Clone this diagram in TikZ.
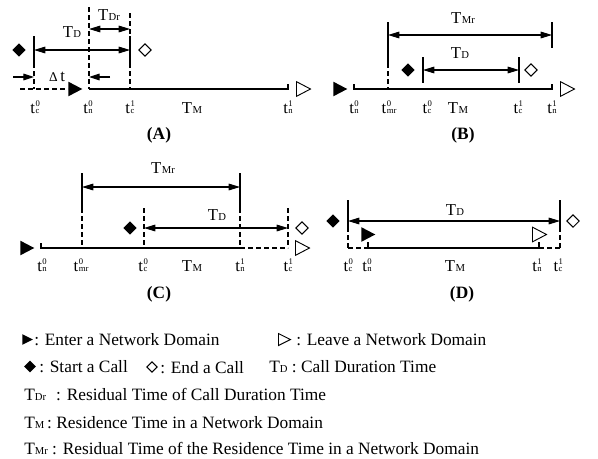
\documentclass[tikz,border=0pt]{standalone}
\usepackage{fontspec}
\setmainfont{Liberation Serif}
\usetikzlibrary{arrows.meta,shapes.geometric}

% T with a small letter index on the baseline (T_D, T_M, ...)
\newcommand\Tsub[1]{T\kern0.3pt{\fontsize{8}{8}\selectfont #1}}
% time instant t with stacked upper and lower index
\newcommand\tlab[2]{t\kern0.4pt\rlap{\raisebox{4.8pt}{\fontsize{6.5}{7}\selectfont #1}}{\fontsize{6.5}{7}\selectfont #2}}

\begin{document}
\begin{tikzpicture}[x=0.75pt,y=-0.75pt,
  lbl/.style={inner sep=0pt, anchor=base, font=\fontsize{12.5}{12.5}\selectfont},
  panelcap/.style={inner sep=0pt, font=\fontsize{13}{13}\selectfont\bfseries},
  legtext/.style={inner sep=0pt, anchor=base west, font=\fontsize{13}{13}\selectfont},
  rule/.style={line width=0.8pt},
  dsh/.style={line width=0.8pt, dash pattern=on 3.5pt off 2.5pt},
  span/.style={line width=0.8pt, {Triangle[length=8.5pt,width=5pt]}-{Triangle[length=8.5pt,width=5pt]}},
  half/.style={line width=0.8pt, -{Triangle[length=8pt,width=5pt]}},
  enter/.style={isosceles triangle, isosceles triangle stretches, shape border rotate=0,
    fill=black, inner sep=0pt, minimum width=11pt, minimum height=10.5pt, anchor=west},
  leave/.style={enter, fill=white, draw=black, line width=0.7pt},
  callon/.style={diamond, fill=black, inner sep=0pt, minimum width=10pt, minimum height=10pt},
  calloff/.style={diamond, draw=black, fill=white, line width=0.7pt, inner sep=0pt,
    minimum width=9.5pt, minimum height=9.5pt},
]
\useasboundingbox (0,0) rectangle (598,458);

% ---------------- (A) ----------------
\coordinate (a1t) at (34,36);  \coordinate (a1m) at (34,63);  \coordinate (a1b) at (34,89);
\coordinate (a2t) at (89,7);   \coordinate (a2b) at (89,89);
\coordinate (a3t) at (130,13); \coordinate (a3u) at (130,36); \coordinate (a3m) at (130,63); \coordinate (a3b) at (130,89);
\draw[rule] (a1t) -- (a1m); \draw[dsh] (a1m) -- (a1b);
\draw[dsh] (a2t) -- (a2b);
\draw[dsh] (a3t) -- (a3u); \draw[rule] (a3u) -- (a3m); \draw[dsh] (a3m) -- (a3b);
\coordinate (aDl) at (34,50);  \coordinate (aDr) at (130,50);
\draw[span] (aDl) -- (aDr);
\coordinate (aRl) at (89,29);  \coordinate (aRr) at (130,29);
\draw[span] (aRl) -- (aRr);
\node[lbl] (aTD) at (72,37) {\Tsub{D}};
\node[lbl] (aTDr) at (109,20) {\Tsub{Dr}};
\node[callon] (aOn) at (19,50) {};
\node[calloff] (aOff) at (145,50) {};
% delta t
\coordinate (aL0) at (13,77); \coordinate (aL1) at (34,77);
\coordinate (aR0) at (110,77); \coordinate (aR1) at (89,77);
\draw[half] (aL0) -- (aL1);
\draw[half] (aR0) -- (aR1);
\node[lbl] (aDt) at (57,81) {{\fontsize{10}{10}\selectfont Δ}\,t};
% time axis
\coordinate (aS) at (20,89);
\node[enter] (aIn) at (68,89) {};
\draw[dsh] (aS) -- (aIn.west);
\coordinate (aE) at (288,89); \coordinate (aEt) at (288,84);
\draw[rule] (a2b) -- (aE) -- (aEt);
\node[leave] (aOut) at (296,89) {};
\node[lbl] (atc0) at (35,113) {\tlab{0}{c}};
\node[lbl] (atn0) at (88,113) {\tlab{0}{n}};
\node[lbl] (atc1) at (130,113) {\tlab{1}{c}};
\node[lbl] (aTM) at (192,113) {\Tsub{M}};
\node[lbl] (atn1) at (288,113) {\tlab{1}{n}};
\node[panelcap] (capA) at (159,135) {(A)};

% ---------------- (B) ----------------
\node[enter] (bIn) at (333,89) {};
\coordinate (bS) at (354,89); \coordinate (bSt) at (354,84);
\coordinate (bE) at (552,89); \coordinate (bEt) at (552,84);
\draw[rule] (bSt) -- (bS) -- (bE) -- (bEt);
\node[leave] (bOut) at (560,89) {};
\coordinate (b1t) at (388,22); \coordinate (b1m) at (388,63); \coordinate (b1b) at (388,89);
\draw[rule] (b1t) -- (b1m); \draw[dsh] (b1m) -- (b1b);
\coordinate (b2t) at (552,22); \coordinate (b2b) at (552,48);
\draw[rule] (b2t) -- (b2b);
\coordinate (bMl) at (388,35); \coordinate (bMr) at (552,35);
\draw[span] (bMl) -- (bMr);
\node[lbl] (bTMr) at (463,23) {\Tsub{Mr}};
\coordinate (b3t) at (423,57); \coordinate (b3b) at (423,83);
\coordinate (b4t) at (519,57); \coordinate (b4b) at (519,83);
\draw[rule] (b3t) -- (b3b); \draw[rule] (b4t) -- (b4b);
\coordinate (bDl) at (423,70); \coordinate (bDr) at (519,70);
\draw[span] (bDl) -- (bDr);
\node[lbl] (bTD) at (460,58) {\Tsub{D}};
\node[callon] (bOn) at (408,70) {};
\node[calloff] (bOff) at (531,70) {};
\node[lbl] (btn0) at (354,113) {\tlab{0}{n}};
\node[lbl] (btmr0) at (389,113) {\tlab{0}{mr}};
\node[lbl] (btc0) at (427,113) {\tlab{0}{c}};
\node[lbl] (bTM) at (458,113) {\Tsub{M}};
\node[lbl] (btc1) at (518,113) {\tlab{1}{c}};
\node[lbl] (btn1) at (552,113) {\tlab{1}{n}};
\node[panelcap] (capB) at (463,135) {(B)};

% ---------------- (C) ----------------
\node[enter] (cIn) at (20,248) {};
\coordinate (cS) at (41,248); \coordinate (cSt) at (41,243);
\coordinate (cN) at (240,248); \coordinate (cE) at (288,248);
\draw[rule] (cSt) -- (cS) -- (cN);
\draw[dsh] (cN) -- (cE);
\node[leave] (cOut) at (295,248) {};
\coordinate (c1t) at (82,173); \coordinate (c1m) at (82,208); \coordinate (c1b) at (82,248);
\coordinate (c2t) at (240,173); \coordinate (c2m) at (240,208);
\draw[rule] (c1t) -- (c1m); \draw[dsh] (c1m) -- (c1b);
\draw[rule] (c2t) -- (c2m); \draw[dsh] (c2m) -- (cN);
\coordinate (cMl) at (82,187); \coordinate (cMr) at (240,187);
\draw[span] (cMl) -- (cMr);
\node[lbl] (cTMr) at (163,173) {\Tsub{Mr}};
\coordinate (c3t) at (144,208); \coordinate (c3b) at (144,248);
\coordinate (c4t) at (288,208);
\draw[dsh] (c3t) -- (c3b); \draw[dsh] (c4t) -- (cE);
\coordinate (cDl) at (144,228); \coordinate (cDr) at (288,228);
\draw[span] (cDl) -- (cDr);
\node[lbl] (cTD) at (217,220) {\Tsub{D}};
\node[callon] (cOn) at (130,228) {};
\node[calloff] (cOff) at (302,228) {};
\node[lbl] (ctn0) at (42,271) {\tlab{0}{n}};
\node[lbl] (ctmr0) at (81,271) {\tlab{0}{mr}};
\node[lbl] (ctc0) at (143,271) {\tlab{0}{c}};
\node[lbl] (cTM) at (192,271) {\Tsub{M}};
\node[lbl] (ctn1) at (240,271) {\tlab{1}{n}};
\node[lbl] (ctc1) at (288,271) {\tlab{1}{c}};
\node[panelcap] (capC) at (159,294) {(C)};

% ---------------- (D) ----------------
\coordinate (d1t) at (348,200); \coordinate (d1m) at (348,227); \coordinate (d1b) at (348,248);
\coordinate (d2t) at (560,200); \coordinate (d2m) at (560,227); \coordinate (d2b) at (560,248);
\draw[rule] (d1t) -- (d1m); \draw[dsh] (d1m) -- (d1b);
\draw[rule] (d2t) -- (d2m); \draw[dsh] (d2m) -- (d2b);
\coordinate (dDl) at (348,221); \coordinate (dDr) at (560,221);
\draw[span] (dDl) -- (dDr);
\node[lbl] (dTD) at (455,215) {\Tsub{D}};
\node[callon] (dOn) at (333,221) {};
\node[calloff] (dOff) at (573,221) {};
\coordinate (dS) at (368,248); \coordinate (dSt) at (368,242);
\coordinate (dE) at (539,248); \coordinate (dEt) at (539,242);
\draw[dsh] (d1b) -- (dS);
\draw[rule] (dSt) -- (dS) -- (dE) -- (dEt);
\draw[dsh] (dE) -- (d2b);
\node[enter] (dIn) at (361,234.5) {};
\node[leave] (dOut) at (532,234.5) {};
\node[lbl] (dtc0) at (348,271) {\tlab{0}{c}};
\node[lbl] (dtn0) at (367,271) {\tlab{0}{n}};
\node[lbl] (dTM) at (455,271) {\Tsub{M}};
\node[lbl] (dtn1) at (537,271) {\tlab{1}{n}};
\node[lbl] (dtc1) at (558,271) {\tlab{1}{c}};
\node[panelcap] (capD) at (462,294) {(D)};

% ---------------- legend ----------------
\node[enter, minimum width=8pt, minimum height=8pt] (kIn) at (22,339.5) {};
\node[legtext] (kInT) at (34,345) {: Enter a Network Domain};
\node[leave, minimum width=9pt, minimum height=9pt] (kOut) at (278,339.5) {};
\node[legtext] (kOutT) at (296,345) {: Leave a Network Domain};
\node[callon, minimum width=9pt, minimum height=9pt] (kOn) at (30,366.5) {};
\node[legtext] (kOnT) at (39,372) {: Start a Call};
\node[calloff, minimum width=8pt, minimum height=8pt] (kOff) at (152,367) {};
\node[legtext] (kOffT) at (160,373.5) {: End a Call};
\node[legtext] (kTD) at (269,372) {T{\fontsize{8}{8}\selectfont D} : Call Duration Time};
\node[legtext] (kTDr) at (24,400) {T{\fontsize{8}{8}\selectfont Dr}\,\, : Residual Time of Call Duration Time};
\node[legtext] (kTM) at (24,428) {T{\fontsize{8}{8}\selectfont M}\,: Residence Time in a Network Domain};
\node[legtext] (kTMr) at (24,454) {T{\fontsize{8}{8}\selectfont Mr} : Residual Time of the Residence Time in a Network Domain};
\end{tikzpicture}
\end{document}
